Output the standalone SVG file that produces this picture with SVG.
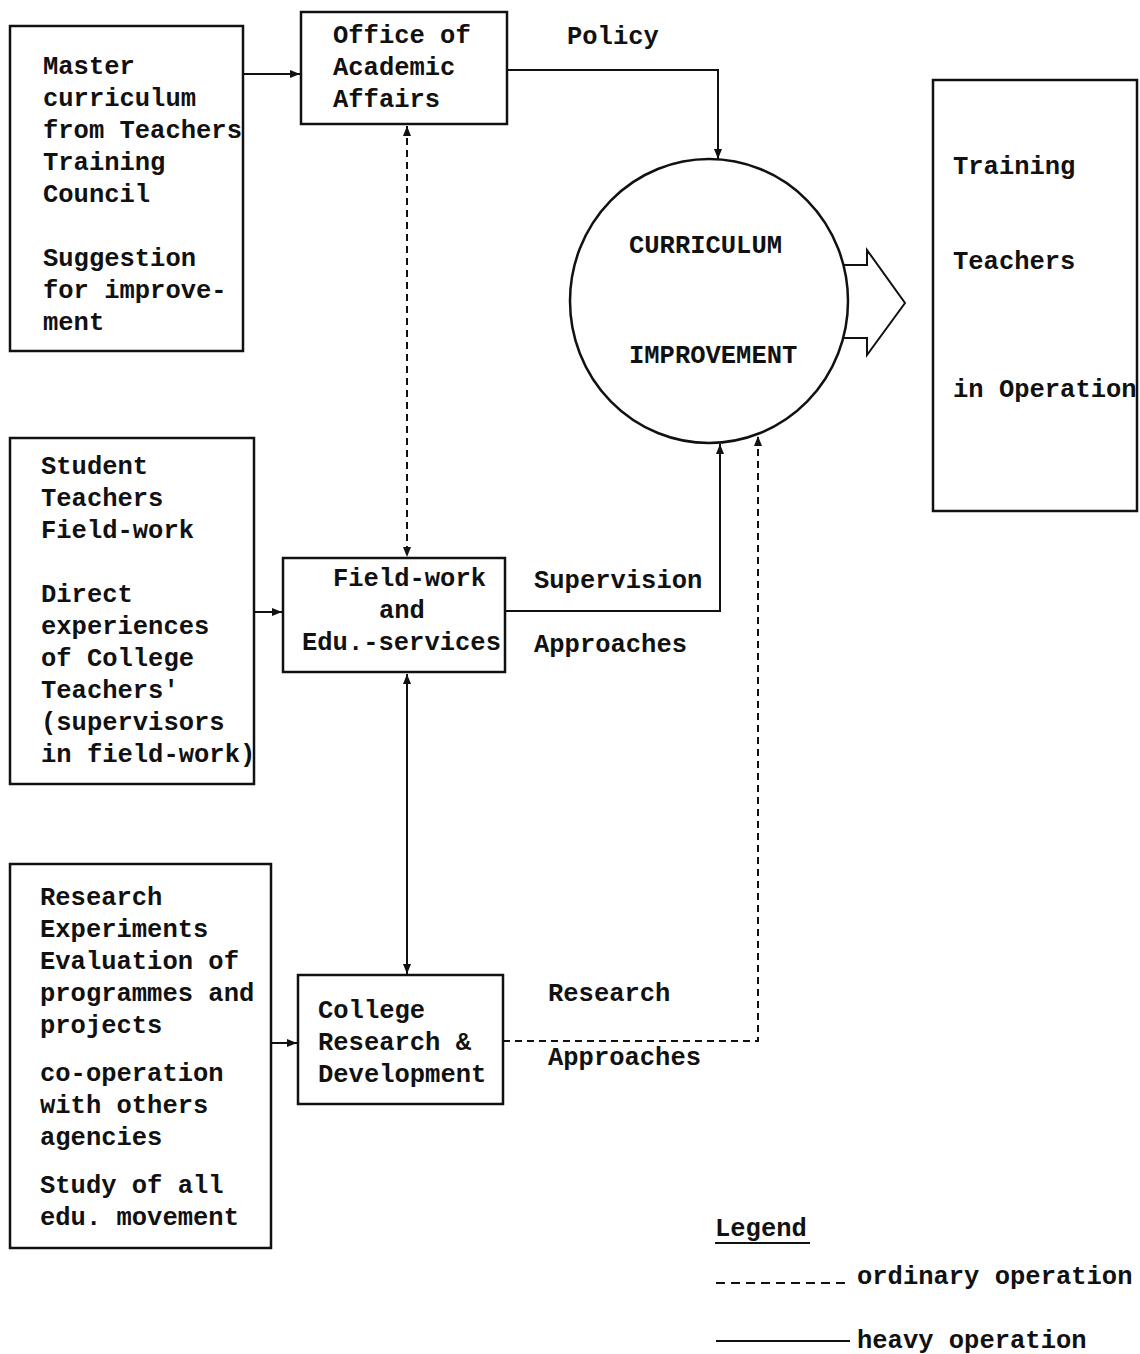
<svg xmlns="http://www.w3.org/2000/svg" width="1140" height="1354" viewBox="0 0 1140 1354">
<style>
  .t { font-family: "Liberation Mono", "DejaVu Sans Mono", monospace; font-size: 25.5px; font-weight: bold; fill: #111; }
  .box { fill: #fff; stroke: #111; stroke-width: 2.5; }
  .ln { fill: none; stroke: #111; stroke-width: 2; }
  .dash { fill: none; stroke: #111; stroke-width: 2; stroke-dasharray: 7 5; }
</style>
<defs>
  <marker id="ah" viewBox="0 0 10 10" refX="10" refY="5" markerWidth="10" markerHeight="10" markerUnits="userSpaceOnUse" orient="auto-start-reverse">
    <path d="M0,1 L10,5 L0,9 z" fill="#111"/>
  </marker>
</defs>
<rect width="1140" height="1354" fill="#fff"/>

<g id="connectors">
  <path class="ln" d="M243,74 H300" marker-end="url(#ah)"/>
  <path class="ln" d="M507,70 H718 V159" marker-end="url(#ah)"/>
  <path class="dash" d="M407,126 V557" marker-start="url(#ah)" marker-end="url(#ah)"/>
  <path class="ln" d="M254,612 H282" marker-end="url(#ah)"/>
  <path class="ln" d="M505,611 H720 V444" marker-end="url(#ah)"/>
  <path class="ln" d="M407,674 V974" marker-start="url(#ah)" marker-end="url(#ah)"/>
  <path class="ln" d="M271,1043 H297" marker-end="url(#ah)"/>
  <path class="dash" d="M503,1041 H758 V436" marker-end="url(#ah)"/>
  <path class="ln" d="M843,265 H867 V250 L905,303 L867,355 V338 H843" fill="#fff"/>
  <text class="t" x="567" y="44">Policy</text>
  <text class="t" x="534" y="588">Supervision</text>
  <text class="t" x="534" y="652">Approaches</text>
  <text class="t" x="548" y="1001">Research</text>
  <text class="t" x="548" y="1065">Approaches</text>
</g>

<g id="master">
  <rect class="box" x="10" y="26" width="233" height="325"/>
  <text class="t" x="43" y="74">Master</text>
  <text class="t" x="43" y="106">curriculum</text>
  <text class="t" x="43" y="138">from Teachers</text>
  <text class="t" x="43" y="170">Training</text>
  <text class="t" x="43" y="202">Council</text>
  <text class="t" x="43" y="266">Suggestion</text>
  <text class="t" x="43" y="298">for improve-</text>
  <text class="t" x="43" y="330">ment</text>
</g>

<g id="office">
  <rect class="box" x="301" y="12" width="206" height="112"/>
  <text class="t" x="333" y="43">Office of</text>
  <text class="t" x="333" y="75">Academic</text>
  <text class="t" x="333" y="107">Affairs</text>
</g>

<g id="curriculum">
  <ellipse class="box" cx="709" cy="301" rx="139" ry="142"/>
  <text class="t" x="629" y="253">CURRICULUM</text>
  <text class="t" x="629" y="363">IMPROVEMENT</text>
</g>

<g id="training">
  <rect class="box" x="933" y="80" width="204" height="431"/>
  <text class="t" x="953" y="174">Training</text>
  <text class="t" x="953" y="269">Teachers</text>
  <text class="t" x="953" y="397">in Operation</text>
</g>

<g id="student">
  <rect class="box" x="10" y="438" width="244" height="346"/>
  <text class="t" x="41" y="474">Student</text>
  <text class="t" x="41" y="506">Teachers</text>
  <text class="t" x="41" y="538">Field-work</text>
  <text class="t" x="41" y="602">Direct</text>
  <text class="t" x="41" y="634">experiences</text>
  <text class="t" x="41" y="666">of College</text>
  <text class="t" x="41" y="698">Teachers'</text>
  <text class="t" x="41" y="730">(supervisors</text>
  <text class="t" x="41" y="762">in field-work)</text>
</g>

<g id="fieldwork">
  <rect class="box" x="283" y="558" width="222" height="114"/>
  <text class="t" x="333" y="586">Field-work</text>
  <text class="t" x="379" y="618">and</text>
  <text class="t" x="302" y="650">Edu.-services</text>
</g>

<g id="research">
  <rect class="box" x="10" y="864" width="261" height="384"/>
  <text class="t" x="40" y="905">Research</text>
  <text class="t" x="40" y="937">Experiments</text>
  <text class="t" x="40" y="969">Evaluation of</text>
  <text class="t" x="40" y="1001">programmes and</text>
  <text class="t" x="40" y="1033">projects</text>
  <text class="t" x="40" y="1081">co-operation</text>
  <text class="t" x="40" y="1113">with others</text>
  <text class="t" x="40" y="1145">agencies</text>
  <text class="t" x="40" y="1193">Study of all</text>
  <text class="t" x="40" y="1225">edu. movement</text>
</g>

<g id="college">
  <rect class="box" x="298" y="975" width="205" height="129"/>
  <text class="t" x="318" y="1018">College</text>
  <text class="t" x="318" y="1050">Research &amp;</text>
  <text class="t" x="318" y="1082">Development</text>
</g>

<g id="legend">
  <text class="t" x="715" y="1236">Legend</text>
  <line x1="715" y1="1243" x2="810" y2="1243" stroke="#111" stroke-width="2"/>
  <line x1="716" y1="1283" x2="850" y2="1283" stroke="#111" stroke-width="2" stroke-dasharray="9 6"/>
  <text class="t" x="857" y="1284">ordinary operation</text>
  <line x1="716" y1="1341" x2="850" y2="1341" stroke="#111" stroke-width="2"/>
  <text class="t" x="857" y="1348">heavy operation</text>
</g>
</svg>
